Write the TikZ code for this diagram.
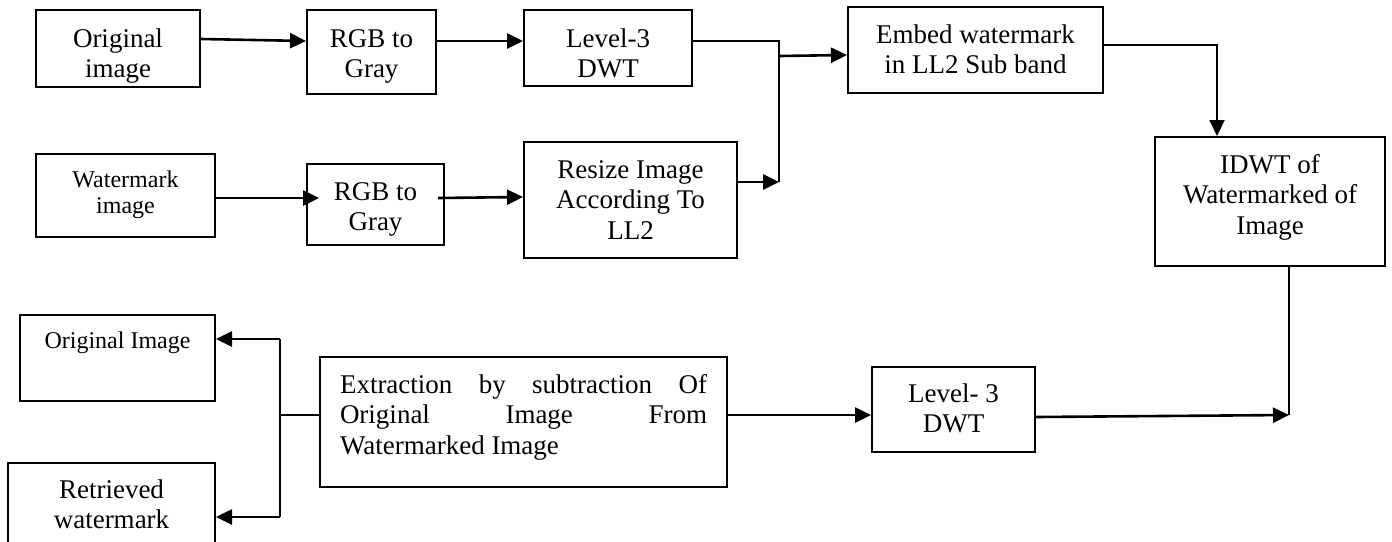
\documentclass[tikz,border=0pt]{standalone}
\usepackage{fontspec}
\setmainfont{Liberation Serif}
\usetikzlibrary{arrows.meta}
\newcommand\fbig{\fontsize{27}{30.5}\selectfont}
\newcommand\fsml{\fontsize{24}{26.5}\selectfont}
\newcommand\tl[1]{\begin{tabular}[t]{@{}c@{}}#1\end{tabular}}
\tikzset{
  box/.style={draw, line width=2pt, inner sep=0pt, text height=0pt, font=\fbig},
  arr/.style={line width=2.6pt, -{Triangle[length=16pt,width=15pt]}},
  ln/.style={line width=2.2pt},
  thinln/.style={line width=1.5pt}
}
\begin{document}
\begin{tikzpicture}[x=1pt,y=-1pt]
\useasboundingbox (0,0) rectangle (1392,541);
% boxes
\node[box, minimum width=164pt, minimum height=77pt, text depth=3pt] (o1) at (118,48.5) {\tl{Original\\image}};
\node[box, minimum width=129pt, minimum height=84pt, text depth=10pt] (rgb1) at (371.5,52) {\tl{RGB to\\Gray}};
\node[box, minimum width=168pt, minimum height=76pt, text depth=2pt] (l3) at (608,48) {\tl{Level-3\\DWT}};
\node[box, minimum width=255pt, minimum height=86pt, text depth=14pt] (emb) at (975.5,50) {\tl{Embed watermark\\in LL2 Sub band}};
\node[box, font=\fsml, minimum width=179pt, minimum height=83pt, text depth=17pt] (w1) at (125.5,195.5) {\tl{Watermark\\image}};
\node[box, minimum width=137pt, minimum height=81pt, text depth=9pt] (rgb2) at (375.5,204.5) {\tl{RGB to\\Gray}};
\node[box, minimum width=213pt, minimum height=116pt, text depth=44pt] (rs) at (630.5,200) {\tl{Resize Image\\According To\\LL2}};
\node[box, minimum width=230pt, minimum height=129pt, text depth=57pt] (idwt) at (1270,201.5) {\tl{IDWT of\\Watermarked of\\Image}};
\node[box, font=\fsml, minimum width=195pt, minimum height=86pt, text depth=20pt] (oi) at (117.5,358) {\tl{Original Image}};
\node[box, minimum width=207pt, minimum height=83pt, text depth=13pt] (rw) at (111.5,504.5) {\tl{Retrieved\\watermark}};
\node[box, minimum width=407pt, minimum height=130pt, text depth=58pt] (ex) at (523.5,422) {\begin{tabular}[t]{@{}l@{}}\hbox to 367pt{Extraction\hfill by\hfill subtraction\hfill Of}\\\hbox to 367pt{Original\hfill Image\hfill From}\\Watermarked Image\end{tabular}};
\node[box, minimum width=163pt, minimum height=85pt, text depth=15pt] (l3b) at (953.5,409.5) {\tl{Level- 3\\DWT}};
% junctions
\coordinate (j1) at (779,41);
\coordinate (j2) at (779,182);
\coordinate (j5) at (779,56);
\coordinate (j3) at (1289,415);
\coordinate (j4) at (280,415);
\coordinate (j6) at (280,339);
\coordinate (j7) at (280,517);
% connectors
\draw[arr] ([yshift=9.5pt]o1.east) -- ([yshift=11pt]rgb1.west);
\draw[arr] ([yshift=11pt]rgb1.east) -- ([yshift=7pt]l3.west);
\draw[ln] ([yshift=7pt]l3.east) -- (j1) -- (j2);
\draw[arr] ([yshift=18pt]rs.east) -- (j2);
\draw[arr] (j5) -- ([yshift=-5pt]emb.west);
\draw[arr, line width=2pt] ([yshift=5pt]emb.east) -| ([xshift=-53pt]idwt.north);
\draw[arr] ([yshift=-2.5pt]w1.east) -- ([xshift=13pt,yshift=6.5pt]rgb2.west);
\draw[arr] ([xshift=-7pt,yshift=6.5pt]rgb2.east) -- ([yshift=3pt]rs.west);
\draw[arr] ([yshift=7pt]ex.east) -- ([yshift=-5.5pt]l3b.west);
\draw[thinln] ([xshift=19pt]idwt.south) -- (j3);
\draw[arr] ([yshift=-7.5pt]l3b.east) -- (j3);
\draw[thinln] ([yshift=7pt]ex.west) -- (j4);
\draw[thinln] (j6) -- (j7);
\draw[arr] (j6) -- ([yshift=19pt]oi.east);
\draw[arr] (j7) -- ([yshift=-12.5pt]rw.east);
\end{tikzpicture}
\end{document}
